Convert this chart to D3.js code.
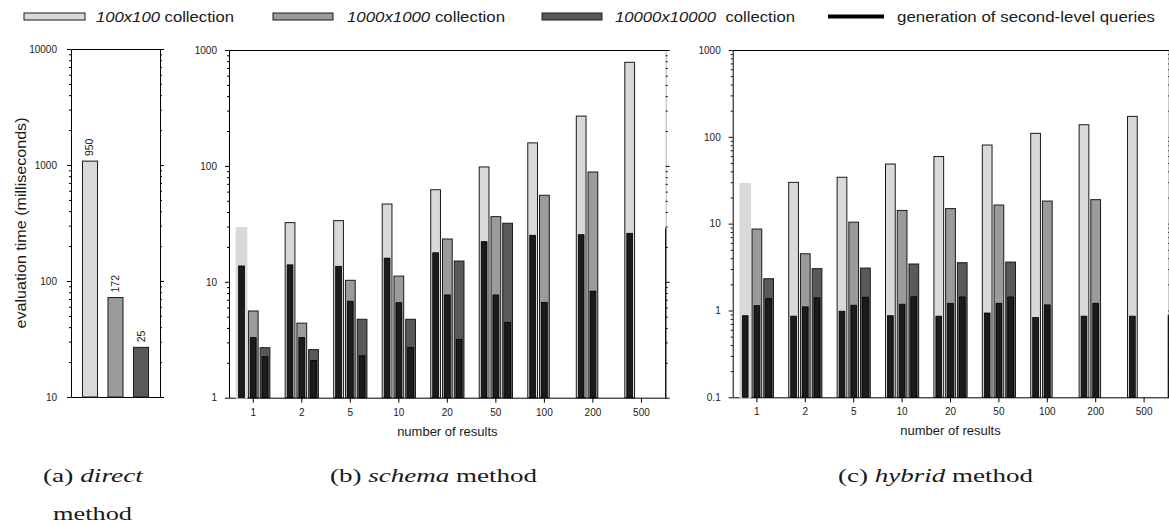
<!DOCTYPE html>
<html><head><meta charset="utf-8">
<script src="https://cdn.jsdelivr.net/npm/d3@7"></script>
<style>
body{margin:0;background:#fff}
svg text{font-family:"Liberation Sans",Arial,Helvetica,sans-serif;fill:#1a1a1a}
.cap{font-family:"Liberation Serif","Times New Roman",serif !important}
</style>
</head><body>
<svg id="chart" width="1169" height="525"></svg>
<script>
// ---------- data ----------
const categories = ["1","2","5","10","20","50","100","200","500"];
const seriesNames = ["100x100","1000x1000","10000x10000"];

// (a) direct method
const directValues = [1080, 72, 26.8];
const directLabels = ["950","172","25"];
const directTicks = [10,100,1000,10000];
const directTickLabels = ["10","100","1000","10000"];

// (b) schema method
const schema100 = [29.1, 32.4, 33.7, 46.9, 62.3, 97.9, 158, 269, 783];
const schema100Gen = [13.7, 14.0, 13.6, 16.0, 17.8, 22.2, 25.2, 25.5, 26.2];
const schema1000 = [5.6, 4.4, 10.3, 11.2, 23.4, 36.5, 55.8, 88.6, null];
const schema1000Gen = [3.3, 3.3, 6.8, 6.6, 7.7, 7.7, 6.65, 8.3, null];
const schema10000 = [2.7, 2.6, 4.75, 4.75, 15.1, 32.0, null, null, null];
const schema10000Gen = [2.26, 2.1, 2.3, 2.72, 3.19, 4.47, null, null, null];
const schemaTicks = [1,10,100,1000];
const schemaTickLabels = ["1","10","100","1000"];
const schemaEdge = 29;

// (c) hybrid method
const hybrid100 = [28.6, 29.9, 34.2, 48.6, 59.3, 80.5, 109.7, 137.8, 172];
const hybrid100Gen = [0.87, 0.86, 0.98, 0.87, 0.86, 0.935, 0.83, 0.86, 0.86];
const hybrid1000 = [8.67, 4.5, 10.4, 14.2, 14.9, 16.4, 18.2, 18.9, null];
const hybrid1000Gen = [1.135, 1.10, 1.15, 1.18, 1.21, 1.21, 1.16, 1.21, null];
const hybrid10000 = [2.32, 3.03, 3.08, 3.43, 3.55, 3.61, null, null, null];
const hybrid10000Gen = [1.37, 1.40, 1.42, 1.44, 1.43, 1.43, null, null, null];
const hybridTicks = [0.1,1,10,100,1000];
const hybridTickLabels = ["0.1","1","10","100","1000"];
const hybridEdge = 0.88;

// ---------- style ----------
const fills = ["#d9d9d9","#9b9b9b","#595959"];
const genFill = "#1b1b1b";
const strokeCol = "#1a1a1a";

const svg = d3.select("#chart");

function minorTicks(domain){
  const out = [];
  const e0 = Math.round(Math.log10(domain[0])), e1 = Math.round(Math.log10(domain[1]));
  for (let e = e0; e < e1; e++) for (let k = 2; k <= 9; k++) out.push(+(k * Math.pow(10, e)).toPrecision(3));
  return out;
}

function frame(g, y, x0, x1, ticks, tickLabels, opts = {}){
  const minors = minorTicks(y.domain());
  const L = g.append("g").attr("transform", `translate(${x0},0)`);
  L.call(d3.axisLeft(y).tickValues(ticks).tickSize(4).tickSizeOuter(0).tickPadding(opts.pad || 8)
      .tickFormat((d,i)=>tickLabels[i]));
  L.selectAll("text").style("font-size","10px");
  const Lm = g.append("g").attr("transform", `translate(${x0},0)`);
  Lm.call(d3.axisLeft(y).tickValues(minors).tickSize(2).tickFormat(""));
  Lm.select(".domain").remove();
  const R = g.append("g").attr("transform", `translate(${x1},0)`);
  R.call(d3.axisRight(y).tickValues(ticks).tickSize(4).tickSizeOuter(0).tickFormat(""));
  const Rm = g.append("g").attr("transform", `translate(${x1},0)`);
  Rm.call(d3.axisRight(y).tickValues(minors).tickSize(2).tickFormat(""));
  Rm.select(".domain").remove();
  if (opts.edge != null){
    R.select(".domain").attr("stroke","#b5b5b5");
    g.append("line").attr("x1",x1).attr("x2",x1)
      .attr("y1",y(opts.edge)).attr("y2",y(y.domain()[0]))
      .attr("stroke","#000").attr("stroke-width",1.2);
  }
  const xs = d3.scaleLinear().range([x0,x1]);
  g.append("g").attr("transform",`translate(0,${y(y.domain()[1])})`)
    .call(d3.axisTop(xs).tickValues([]).tickSizeOuter(0));
  return xs;
}

// ---------- (a) direct ----------
(function(){
  const x0 = 71, x1 = 160;
  const y = d3.scaleLog().domain([10,10000]).range([397,49]);
  const g = svg.append("g");
  frame(g, y, x0, x1, directTicks, directTickLabels, {pad: 10});
  const xb = d3.scaleBand().domain(seriesNames).range([x0,x1]).paddingInner(0.41).paddingOuter(0.45);
  g.append("g").attr("transform",`translate(0,${y(10)})`)
    .call(d3.axisBottom(d3.scaleLinear().range([x0,x1])).tickValues([]).tickSizeOuter(0));
  const data = directValues.map((v,i)=>({s:seriesNames[i], v, lab:directLabels[i], i}));
  g.selectAll("rect.bar").data(data).join("rect")
    .attr("x", d=>xb(d.s)).attr("width", xb.bandwidth())
    .attr("y", d=>y(d.v)).attr("height", d=>y(10)-y(d.v))
    .attr("fill", d=>fills[d.i]).attr("stroke", strokeCol).attr("stroke-width",1);
  g.selectAll("text.val").data(data).join("text")
    .attr("transform", d=>`translate(${xb(d.s)+xb.bandwidth()/2+3.5},${y(d.v)-5}) rotate(-90)`)
    .attr("text-anchor","start").style("font-size","10.5px").text(d=>d.lab);
  svg.append("text").attr("transform","translate(26,223) rotate(-90)")
    .attr("text-anchor","middle").style("font-size","14.5px")
    .attr("textLength",211).attr("lengthAdjust","spacingAndGlyphs")
    .text("evaluation time (milliseconds)");
})();

// ---------- (b)/(c) grouped panels ----------
function grouped(cfg){
  const {x0,x1,yTop,yBot,domain,vals,gens,ticks,tickLabels,edge} = cfg;
  const y = d3.scaleLog().domain(domain).range([yBot,yTop]);
  const g = svg.append("g");
  frame(g, y, x0, x1, ticks, tickLabels, {edge});
  const xo = d3.scaleBand().domain(categories).range([x0,x1]);
  const xi = d3.scaleBand().domain(seriesNames).range([0,xo.bandwidth()]).paddingInner(0.17).paddingOuter(0.65);
  const B = g.append("g").attr("transform",`translate(0,${yBot})`);
  B.call(d3.axisBottom(xo).tickSize(5).tickSizeOuter(0).tickPadding(6));
  B.selectAll("text").style("font-size","10px");
  g.append("text").attr("x",(x0+x1)/2).attr("y",yBot+38).attr("text-anchor","middle")
    .style("font-size","13px").text("number of results");
  const data = [];
  categories.forEach((c,ci)=>seriesNames.forEach((s,si)=>{
    const v = vals[si][ci];
    if (v != null) data.push({c, s, si, ci, v, gen: gens[si][ci]});
  }));
  const bw = xi.bandwidth();
  g.selectAll("rect.bar").data(data).join("rect")
    .attr("x", d=>xo(d.c)+xi(d.s)).attr("width", bw)
    .attr("y", d=>y(d.v)).attr("height", d=>yBot-y(d.v))
    .attr("fill", d=>fills[d.si])
    .attr("stroke", d=>(d.ci===0&&d.si===0)?fills[0]:strokeCol)
    .attr("stroke-width", d=>(d.ci===0&&d.si===0)?2:1);
  g.selectAll("rect.gen").data(data).join("rect")
    .attr("x", d=>xo(d.c)+xi(d.s)+2).attr("width", bw-4)
    .attr("y", d=>y(d.gen)).attr("height", d=>yBot-y(d.gen))
    .attr("fill", genFill).attr("stroke","#000").attr("stroke-width",0.8);
}

grouped({x0:229, x1:665.7, yTop:50, yBot:397.7, domain:[1,1000],
  vals:[schema100,schema1000,schema10000], gens:[schema100Gen,schema1000Gen,schema10000Gen],
  ticks:schemaTicks, tickLabels:schemaTickLabels, edge:schemaEdge});
grouped({x0:732.7, x1:1168.3, yTop:50, yBot:397.3, domain:[0.1,1000],
  vals:[hybrid100,hybrid1000,hybrid10000], gens:[hybrid100Gen,hybrid1000Gen,hybrid10000Gen],
  ticks:hybridTicks, tickLabels:hybridTickLabels, edge:hybridEdge});

// ---------- legend ----------
const legendItems = [
  {name:"100x100", gap:" collection", kind:"rect", fill:fills[0], sx:24, sw:61, tx:96, tw:138},
  {name:"1000x1000", gap:" collection", kind:"rect", fill:fills[1], sx:273, sw:60, tx:347, tw:158},
  {name:"10000x10000", gap:"\u00a0 collection", kind:"rect", fill:fills[2], sx:542, sw:60, tx:615, tw:180},
  {name:null, gap:"generation of second-level queries", kind:"line", fill:"#000", sx:828, sw:56, tx:897, tw:258}
];
const lg = svg.append("g");
legendItems.forEach(it=>{
  if (it.kind==="rect"){
    lg.append("rect").attr("x",it.sx).attr("y",13).attr("width",it.sw).attr("height",7)
      .attr("fill",it.fill).attr("stroke",strokeCol).attr("stroke-width",1);
  } else {
    lg.append("line").attr("x1",it.sx).attr("x2",it.sx+it.sw).attr("y1",16.5).attr("y2",16.5)
      .attr("stroke","#000").attr("stroke-width",4);
  }
  const t = lg.append("text").attr("x",it.tx).attr("y",21.5).style("font-size","15px")
    .attr("textLength", it.tw).attr("lengthAdjust","spacingAndGlyphs");
  if (it.name) t.append("tspan").style("font-style","italic").text(it.name);
  t.append("tspan").text(it.gap);
});

// ---------- captions ----------
function caption(x, y, w, pre, it, post){
  const t = svg.append("text").attr("class","cap").attr("x",x).attr("y",y)
    .attr("textLength", w).attr("lengthAdjust","spacingAndGlyphs")
    .style("font-size","19px");
  t.append("tspan").text(pre);
  t.append("tspan").style("font-style","italic").text(it);
  if (post) t.append("tspan").text(post);
}
caption(43, 482, 100, "(a) ", "direct", "");
svg.append("text").attr("class","cap").attr("x",53).attr("y",520)
  .attr("textLength",79).attr("lengthAdjust","spacingAndGlyphs")
  .style("font-size","19px").text("method");
caption(330, 482, 207, "(b) ", "schema", " method");
caption(838, 482, 195, "(c) ", "hybrid", " method");
</script>
</body></html>
